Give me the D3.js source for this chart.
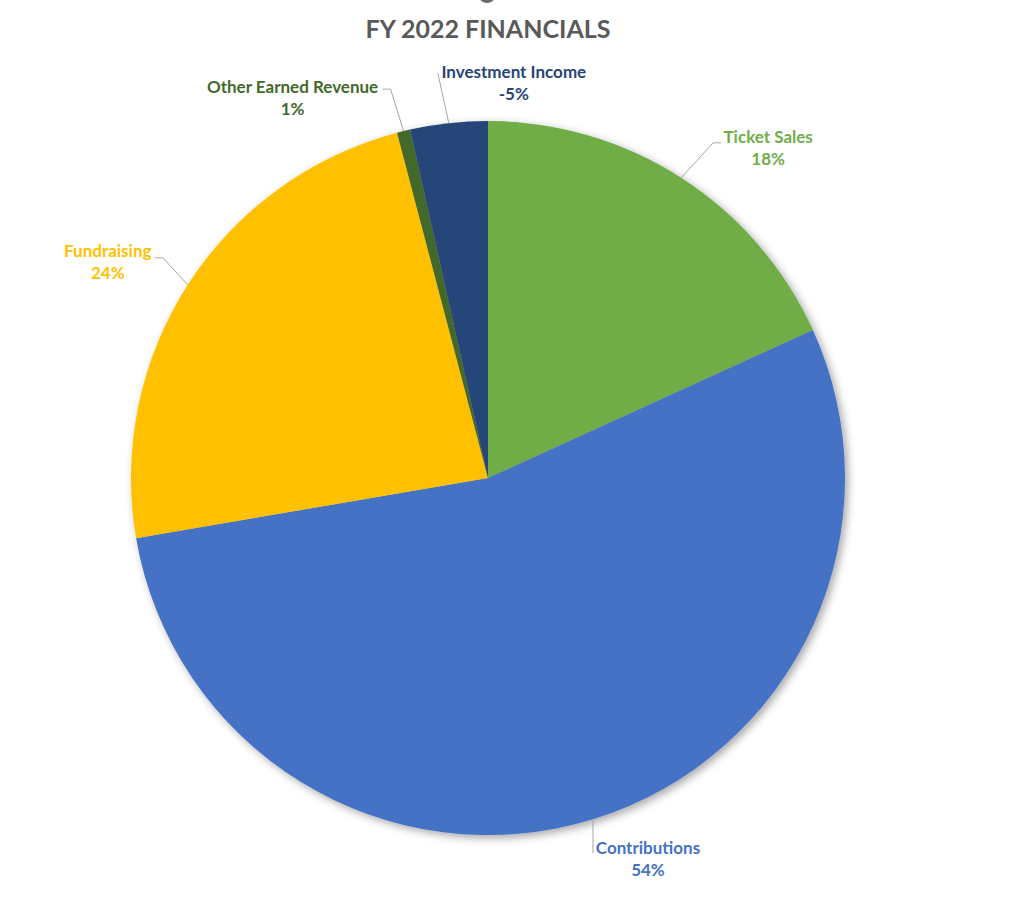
<!DOCTYPE html>
<html>
<head>
<meta charset="utf-8">
<script src="https://cdn.jsdelivr.net/npm/d3@7"></script>
<style>
  body { margin: 0; background: #fff; }
  svg text { font-family: Lato, "Open Sans", sans-serif; font-weight: bold; }
</style>
</head>
<body>
<div class="chart"></div>
<script>
// data
var categories = ["Ticket Sales", "Contributions", "Fundraising", "Other Earned Revenue", "Investment Income"];
var sliceValues = [18.2, 54.1, 23.6, 0.6, 3.5];   // drawn share of the circle
var pctLabels = ["18%", "54%", "24%", "1%", "-5%"]; // percentages as printed
var colors = ["#70AD47", "#4472C4", "#FFC000", "#43682B", "#264478"];

// label layout: text centre offset from the point where the leader touches the pie,
// and the leader's bend points (also offsets from that point)
var labelLayout = [
  { dx: 87, dy: -41, leader: [[32, -35], [40, -35]] },
  { dx: 55, dy: 29, leader: [[0, 34]] },
  { dx: -80, dy: -34, leader: [[-25, -27], [-33, -27]] },
  { dx: -111, dy: -44, leader: [[-13, -42], [-21, -42]] },
  { dx: 65, dy: -51, leader: [[-11, -50]] }
];

var width = 1026,
  height = 900,
  cx = 488,
  cy = 478,
  radius = 357;

var svg = d3.select(".chart").append("svg")
  .attr("width", width)
  .attr("height", height);

var defs = svg.append("defs");
var shadow = defs.append("filter")
  .attr("id", "shadow")
  .attr("x", "-10%").attr("y", "-10%")
  .attr("width", "120%").attr("height", "120%");
shadow.append("feDropShadow")
  .attr("dx", 3)
  .attr("dy", 3)
  .attr("stdDeviation", 4)
  .attr("flood-color", "#000")
  .attr("flood-opacity", 0.35);

// cropped grey shape at the very top of the picture
svg.append("ellipse")
  .attr("cx", 487).attr("cy", -4)
  .attr("rx", 8).attr("ry", 7)
  .attr("fill", "#6b6b6b");

svg.append("text")
  .attr("x", cx)
  .attr("y", 38)
  .attr("text-anchor", "middle")
  .attr("font-size", 25)
  .attr("fill", "#595959")
  .text("FY 2022 FINANCIALS");

var pie = d3.pie().sort(null).value(function(d) { return d; });
var arcs = pie(sliceValues);

var arc = d3.arc().innerRadius(0).outerRadius(radius);

var g = svg.append("g")
  .attr("transform", "translate(" + cx + "," + cy + ")");

g.append("g")
  .attr("filter", "url(#shadow)")
  .selectAll("path")
  .data(arcs)
  .enter().append("path")
  .attr("d", arc)
  .attr("fill", function(d, i) { return colors[i]; });

// leaders and labels
arcs.forEach(function(a, i) {
  var mid = (a.startAngle + a.endAngle) / 2;
  var px = radius * Math.sin(mid),
    py = -radius * Math.cos(mid);
  var lay = labelLayout[i];

  var pts = [[px, py]].concat(lay.leader.map(function(p) { return [px + p[0], py + p[1]]; }));
  g.append("path")
    .attr("d", d3.line()(pts))
    .attr("fill", "none")
    .attr("stroke", "#a6a6a6")
    .attr("stroke-width", 1);

  var t = g.append("text")
    .attr("x", px + lay.dx)
    .attr("y", py + lay.dy)
    .attr("text-anchor", "middle")
    .attr("font-size", 17)
    .attr("fill", colors[i]);
  t.append("tspan")
    .attr("x", px + lay.dx)
    .attr("dy", "0.35em")
    .text(categories[i]);
  t.append("tspan")
    .attr("x", px + lay.dx)
    .attr("dy", 22)
    .text(pctLabels[i]);
});
</script>
</body>
</html>
